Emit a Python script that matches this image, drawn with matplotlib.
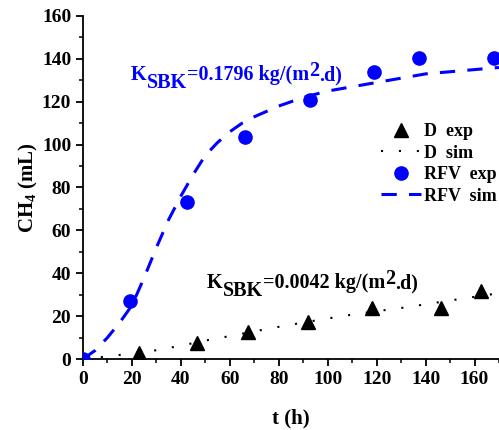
import numpy as np
import matplotlib
matplotlib.use("Agg")
import matplotlib.pyplot as plt
from matplotlib.ticker import MultipleLocator

plt.rcParams['font.family'] = ['Liberation Serif', 'DejaVu Serif']
plt.rcParams['font.weight'] = 'bold'
plt.rcParams['mathtext.fontset'] = 'custom'
plt.rcParams['mathtext.rm'] = 'Liberation Serif:bold'
plt.rcParams['mathtext.bf'] = 'Liberation Serif:bold'
plt.rcParams['mathtext.it'] = 'Liberation Serif:bold'

# experimental points
t_d_exp = [23, 46.5, 67.5, 92, 118, 146.5, 162.5]
ch4_d_exp = [3, 7.5, 12.6, 17.3, 23.8, 23.8, 31.8]
t_rfv_exp = [0, 19.2, 42.4, 66, 92.6, 119, 137.5, 168]
ch4_rfv_exp = [0, 27, 73.4, 103.7, 121, 134, 140.6, 140.6]

# simulated curves
t_sim = [0, 5, 10, 15, 20, 25, 30, 35, 40, 45, 50, 55, 60, 65, 70, 80, 90,
         100, 110, 120, 130, 140, 150, 160, 170]
ch4_rfv_sim = [0, 4, 10, 17, 25, 38, 52, 65, 76, 86, 95, 101, 106, 110, 113,
               118, 122, 125, 127, 129, 131, 133, 134, 135, 136]
t_d_sim = [0, 10, 20, 30, 40, 50, 60, 70, 80, 90, 100, 110, 120, 130, 140,
           150, 160, 170]
ch4_d_sim = [0, 1.2, 2.6, 4.1, 6.2, 8.6, 10.7, 12.9, 15, 17, 18.9, 20.7,
             22.3, 23.8, 25.5, 27.3, 29, 30.7]

W, H = 499, 430
fig = plt.figure(figsize=(W / 100, H / 100), dpi=100)
ax = fig.add_axes([83 / W, 71 / H, 416 / W, 343 / H])

ax.plot(t_d_exp, ch4_d_exp, '^', color='black', ms=9.8, label='D  exp', zorder=4)
ax.plot(t_d_sim, ch4_d_sim, color='black', lw=1.5, dashes=(1, 7.6),
        label='D  sim', zorder=3)
ax.plot(t_rfv_exp, ch4_rfv_exp, 'o', color='blue', ms=9.5, label='RFV  exp', zorder=4)
ax.plot(t_sim, ch4_rfv_sim, color='blue', lw=2.2, dashes=(5, 4),
        label='RFV  sim', zorder=3)

ax.set_xlim(0, 170)
ax.set_ylim(0, 160)
ax.xaxis.set_major_locator(MultipleLocator(20))
ax.xaxis.set_minor_locator(MultipleLocator(10))
ax.yaxis.set_major_locator(MultipleLocator(20))
ax.yaxis.set_minor_locator(MultipleLocator(10))
for s in ['top', 'right']:
    ax.spines[s].set_visible(False)
for s in ['left', 'bottom']:
    ax.spines[s].set_linewidth(1.3)
ax.tick_params(which='major', direction='out', length=5, width=1.3, labelsize=14)
ax.tick_params(which='minor', direction='out', length=3, width=1.1)

ax.set_xlabel('t (h)', fontsize=15, fontweight='bold', labelpad=15)
ax.set_ylabel(r'CH$_\mathbf{4}$ (mL)', fontsize=15, fontweight='bold', labelpad=1)


def k_label(x, y, value, color):
    # pieces: (text, vertical shift in px)
    pieces = [('K', 0), ('SBK', -8), ('=' + value + ' kg/(m', 0),
              ('2', 4), ('.d)', 0)]
    renderer = fig.canvas.get_renderer()
    px = x
    for txt, dy in pieces:
        t = fig.text(px / W, 1 - (y - dy) / H, txt, color=color, fontsize=14.5,
                     fontweight='bold', va='baseline', ha='left')
        px += t.get_window_extent(renderer).width


k_label(131, 80, '0.1796', 'blue')
k_label(207, 288, '0.0042', 'black')

ax.legend(loc='upper left', bbox_to_anchor=(372 / W, 1 - 114 / H),
          bbox_transform=fig.transFigure, frameon=False, numpoints=1,
          fontsize=13, handlelength=2.2, handletextpad=0.2, labelspacing=0.25,
          borderpad=0)

fig.savefig('out.png', dpi=100)
